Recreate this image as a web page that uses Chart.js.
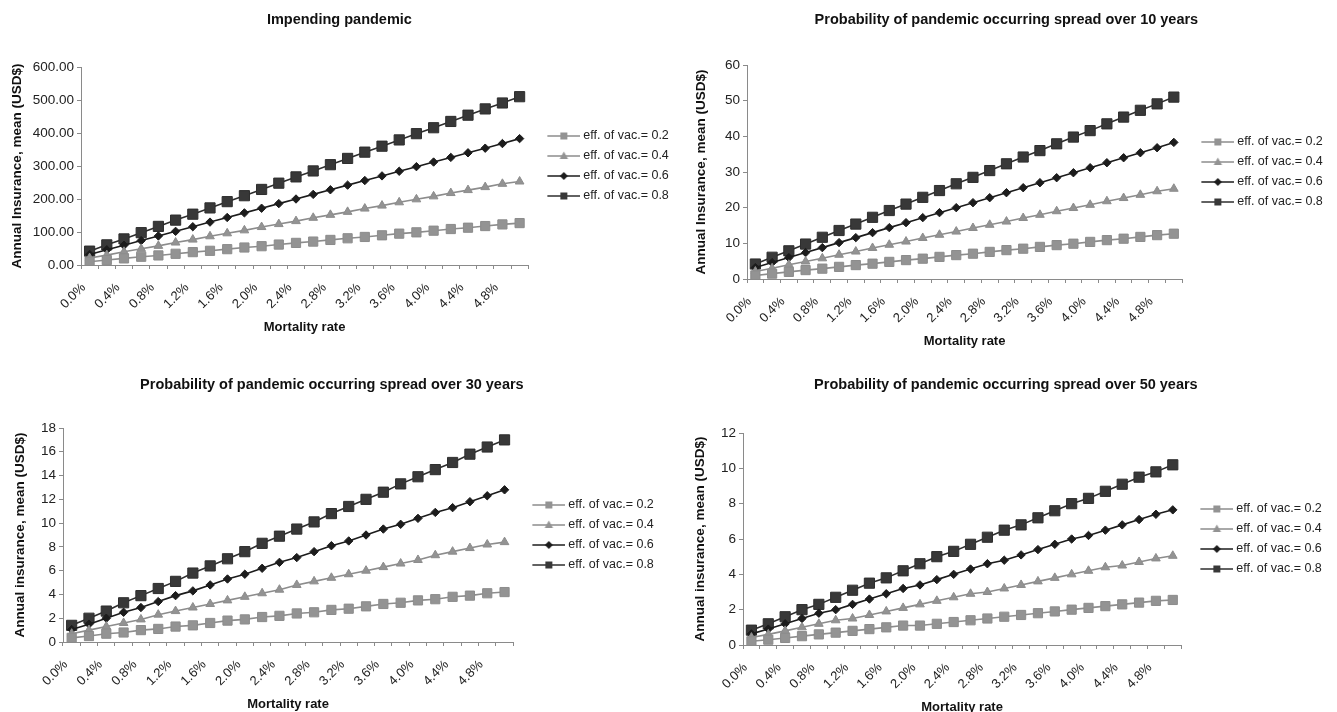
<!DOCTYPE html>
<html>
<head>
<meta charset="utf-8">
<script src="https://cdn.jsdelivr.net/npm/chart.js@4.4.1/dist/chart.umd.min.js"></script>
<style>
  html, body { margin: 0; padding: 0; background: #fff; width: 1337px; height: 712px; overflow: hidden; }
  canvas { position: absolute; }
</style>
</head>
<body>
<canvas id="p1" width="680" height="335" style="left:0px;top:0px"></canvas>
<canvas id="p2" width="690" height="349" style="left:680px;top:0px"></canvas>
<canvas id="p3" width="680" height="352" style="left:0px;top:360px"></canvas>
<canvas id="p4" width="690" height="355" style="left:680px;top:360px"></canvas>
<script>
const mortalityLabels = ['0.0%', '0.2%', '0.4%', '0.6%', '0.8%', '1.0%', '1.2%', '1.4%', '1.6%', '1.8%',
  '2.0%', '2.2%', '2.4%', '2.6%', '2.8%', '3.0%', '3.2%', '3.4%', '3.6%', '3.8%',
  '4.0%', '4.2%', '4.4%', '4.6%', '4.8%', '5.0%'];
const seriesNames = ['eff. of vac.= 0.2', 'eff. of vac.= 0.4', 'eff. of vac.= 0.6', 'eff. of vac.= 0.8'];

// Impending pandemic
const impending02 = [10, 15, 20, 25, 29, 34, 39, 43, 48, 53, 57, 62, 67, 71, 76, 81, 85, 90, 95, 99, 104, 109, 113, 118, 123, 127];
const impending04 = [21, 30, 40, 49, 58, 68, 77, 87, 96, 105, 115, 124, 133, 143, 152, 161, 171, 180, 190, 199, 208, 218, 227, 236, 246, 253];
const impending06 = [32, 46, 60, 74, 88, 102, 116, 130, 144, 158, 172, 186, 200, 214, 228, 242, 256, 270, 284, 298, 312, 326, 340, 354, 368, 383];
const impending08 = [42, 61, 79, 98, 117, 136, 154, 173, 192, 210, 229, 248, 267, 285, 304, 323, 342, 360, 379, 398, 416, 435, 454, 473, 491, 510];

// spread over 10 years
const years10_02 = [1.0, 1.5, 2.0, 2.5, 2.9, 3.4, 3.9, 4.3, 4.8, 5.3, 5.7, 6.2, 6.7, 7.1, 7.6, 8.1, 8.5, 9.0, 9.5, 9.9, 10.4, 10.9, 11.3, 11.8, 12.3, 12.7];
const years10_04 = [2.1, 3.0, 4.0, 4.9, 5.8, 6.8, 7.7, 8.7, 9.6, 10.5, 11.5, 12.4, 13.3, 14.3, 15.2, 16.1, 17.1, 18.0, 19.0, 19.9, 20.8, 21.8, 22.7, 23.6, 24.6, 25.3];
const years10_06 = [3.2, 4.6, 6.0, 7.4, 8.8, 10.2, 11.6, 13.0, 14.4, 15.8, 17.2, 18.6, 20.0, 21.4, 22.8, 24.2, 25.6, 27.0, 28.4, 29.8, 31.2, 32.6, 34.0, 35.4, 36.8, 38.3];
const years10_08 = [4.2, 6.1, 7.9, 9.8, 11.7, 13.6, 15.4, 17.3, 19.2, 21.0, 22.9, 24.8, 26.7, 28.5, 30.4, 32.3, 34.2, 36.0, 37.9, 39.8, 41.6, 43.5, 45.4, 47.3, 49.1, 51.0];

// spread over 30 years
const years30_02 = [0.35, 0.5, 0.7, 0.8, 1.0, 1.1, 1.3, 1.4, 1.6, 1.8, 1.9, 2.1, 2.2, 2.4, 2.5, 2.7, 2.8, 3.0, 3.2, 3.3, 3.5, 3.6, 3.8, 3.9, 4.1, 4.2];
const years30_04 = [0.7, 1.0, 1.3, 1.6, 1.9, 2.3, 2.6, 2.9, 3.2, 3.5, 3.8, 4.1, 4.4, 4.8, 5.1, 5.4, 5.7, 6.0, 6.3, 6.6, 6.9, 7.3, 7.6, 7.9, 8.2, 8.4];
const years30_06 = [1.05, 1.5, 2.0, 2.5, 2.9, 3.4, 3.9, 4.3, 4.8, 5.3, 5.7, 6.2, 6.7, 7.1, 7.6, 8.1, 8.5, 9.0, 9.5, 9.9, 10.4, 10.9, 11.3, 11.8, 12.3, 12.8];
const years30_08 = [1.4, 2.0, 2.6, 3.3, 3.9, 4.5, 5.1, 5.8, 6.4, 7.0, 7.6, 8.3, 8.9, 9.5, 10.1, 10.8, 11.4, 12.0, 12.6, 13.3, 13.9, 14.5, 15.1, 15.8, 16.4, 17.0];

// spread over 50 years
const years50_02 = [0.21, 0.3, 0.4, 0.5, 0.6, 0.7, 0.8, 0.9, 1.0, 1.1, 1.1, 1.2, 1.3, 1.4, 1.5, 1.6, 1.7, 1.8, 1.9, 2.0, 2.1, 2.2, 2.3, 2.4, 2.5, 2.55];
const years50_04 = [0.42, 0.6, 0.8, 1.0, 1.2, 1.4, 1.5, 1.7, 1.9, 2.1, 2.3, 2.5, 2.7, 2.9, 3.0, 3.2, 3.4, 3.6, 3.8, 4.0, 4.2, 4.4, 4.5, 4.7, 4.9, 5.05];
const years50_06 = [0.63, 0.9, 1.2, 1.5, 1.8, 2.0, 2.3, 2.6, 2.9, 3.2, 3.4, 3.7, 4.0, 4.3, 4.6, 4.8, 5.1, 5.4, 5.7, 6.0, 6.2, 6.5, 6.8, 7.1, 7.4, 7.65];
const years50_08 = [0.84, 1.2, 1.6, 2.0, 2.3, 2.7, 3.1, 3.5, 3.8, 4.2, 4.6, 5.0, 5.3, 5.7, 6.1, 6.5, 6.8, 7.2, 7.6, 8.0, 8.3, 8.7, 9.1, 9.5, 9.8, 10.2];

const FONT = "'Liberation Sans', Arial, sans-serif";
const lineColors = ['#8c8c8c', '#8c8c8c', '#1c1c1c', '#2e2e2e'];
const fillColors = ['#939393', '#939393', '#1c1c1c', '#383838'];
const markerStyles = ['rect', 'triangle', 'rectRot', 'rect'];
const markerSizes = [6.5, 5, 4.2, 7.2];

// legend symbol: short line with the series marker in the middle
function legendIcon(i) {
  const c = document.createElement('canvas');
  c.width = 48; c.height = 14;
  const g = c.getContext('2d');
  g.strokeStyle = lineColors[i];
  g.lineWidth = 1.5;
  g.beginPath(); g.moveTo(15, 7); g.lineTo(48, 7); g.stroke();
  g.fillStyle = fillColors[i];
  const cx = 31.5, cy = 7;
  g.beginPath();
  if (markerStyles[i] === 'rect') {
    g.rect(cx - 3.5, cy - 3.5, 7, 7);
  } else if (markerStyles[i] === 'triangle') {
    g.moveTo(cx, cy - 4.5); g.lineTo(cx + 4.2, cy + 3); g.lineTo(cx - 4.2, cy + 3); g.closePath();
  } else {
    g.moveTo(cx, cy - 4); g.lineTo(cx + 4, cy); g.lineTo(cx, cy + 4); g.lineTo(cx - 4, cy); g.closePath();
  }
  g.fill();
  return c;
}
const legendIcons = [0, 1, 2, 3].map(legendIcon);

function buildPanel(id, p, series) {
  return new Chart(document.getElementById(id).getContext('2d'), {
    type: 'line',
    data: {
      labels: mortalityLabels,
      datasets: series.map((values, i) => ({
        label: seriesNames[i],
        data: values,
        borderColor: lineColors[i],
        backgroundColor: fillColors[i],
        pointBackgroundColor: fillColors[i],
        pointBorderColor: lineColors[i],
        pointBorderWidth: 1,
        pointStyle: markerStyles[i],
        pointRadius: markerSizes[i],
        borderWidth: 1.6,
        tension: 0,
        fill: false
      }))
    },
    options: {
      responsive: false,
      animation: false,
      events: [],
      layout: { padding: { left: 0, right: p.padRight, top: 0, bottom: 0 } },
      plugins: {
        title: {
          display: true,
          text: p.title,
          color: '#111',
          font: { family: FONT, size: 14.5, weight: 'bold' },
          padding: { top: p.titleTop, bottom: p.titleBottom }
        },
        legend: {
          position: 'right',
          fullSize: false,
          labels: {
            usePointStyle: true,
            pointStyleWidth: 41.25,
            padding: 7.5,
            color: '#222',
            font: { family: FONT, size: 12.5 },
            generateLabels: chart => chart.data.datasets.map((ds, i) => ({
              text: ds.label,
              pointStyle: legendIcons[i],
              fontColor: '#222',
              fillStyle: fillColors[i],
              strokeStyle: lineColors[i],
              lineWidth: 0,
              hidden: false,
              datasetIndex: i
            }))
          }
        },
        tooltip: { enabled: false }
      },
      scales: {
        x: {
          offset: true,
          ticks: {
            autoSkip: false,
            minRotation: 45,
            maxRotation: 45,
            padding: 11,
            labelOffset: -6,
            color: '#222',
            font: { family: FONT, size: 13 },
            callback: (v, i) => (i % 2 === 0 ? mortalityLabels[i] : '')
          },
          grid: { offset: true, drawOnChartArea: false, tickLength: 4, color: '#8a8a8a' },
          border: { color: '#8a8a8a', width: 1 },
          title: {
            display: true,
            text: 'Mortality rate',
            color: '#111',
            font: { family: FONT, size: 13, weight: 'bold' },
            padding: { top: 0, bottom: 0 }
          },
          afterFit: s => { s.height = 70; }
        },
        y: {
          min: 0,
          max: p.yMax,
          ticks: {
            stepSize: p.yStep,
            padding: 3,
            color: '#222',
            font: { family: FONT, size: 13.5 },
            callback: v => v.toFixed(p.decimals)
          },
          grid: { drawOnChartArea: false, tickLength: 4, color: '#8a8a8a' },
          border: { color: '#8a8a8a', width: 1 },
          title: {
            display: true,
            text: p.yTitle,
            color: '#111',
            font: { family: FONT, size: 13.5, weight: 'bold' },
            padding: { top: p.yTitlePad, bottom: 0 }
          },
          afterFit: s => { s.width = p.yWidth; }
        }
      }
    }
  });
}

buildPanel('p1', {
  title: 'Impending pandemic', titleTop: 11.3, titleBottom: 38.3,
  yTitle: 'Annual Insurance, mean (USD$)', yTitlePad: 9, yWidth: 81,
  yMax: 600, yStep: 100, decimals: 2, padRight: 1.2
}, [impending02, impending04, impending06, impending08]);

buildPanel('p2', {
  title: 'Probability of pandemic occurring spread over 10 years', titleTop: 11.3, titleBottom: 36.3,
  yTitle: 'Annual Insurance, mean (USD$)', yTitlePad: 13, yWidth: 67,
  yMax: 60, yStep: 10, decimals: 0, padRight: 37.2
}, [years10_02, years10_04, years10_06, years10_08]);

buildPanel('p3', {
  title: 'Probability of pandemic occurring spread over 30 years', titleTop: 16.3, titleBottom: 34.3,
  yTitle: 'Annual insurance, mean (USD$)', yTitlePad: 12, yWidth: 63,
  yMax: 18, yStep: 2, decimals: 0, padRight: 16.2
}, [years30_02, years30_04, years30_06, years30_08]);

buildPanel('p4', {
  title: 'Probability of pandemic occurring spread over 50 years', titleTop: 16.3, titleBottom: 39.3,
  yTitle: 'Annual insurance, mean (USD$)', yTitlePad: 12, yWidth: 63,
  yMax: 12, yStep: 2, decimals: 0, padRight: 38.2
}, [years50_02, years50_04, years50_06, years50_08]);
</script>
</body>
</html>
